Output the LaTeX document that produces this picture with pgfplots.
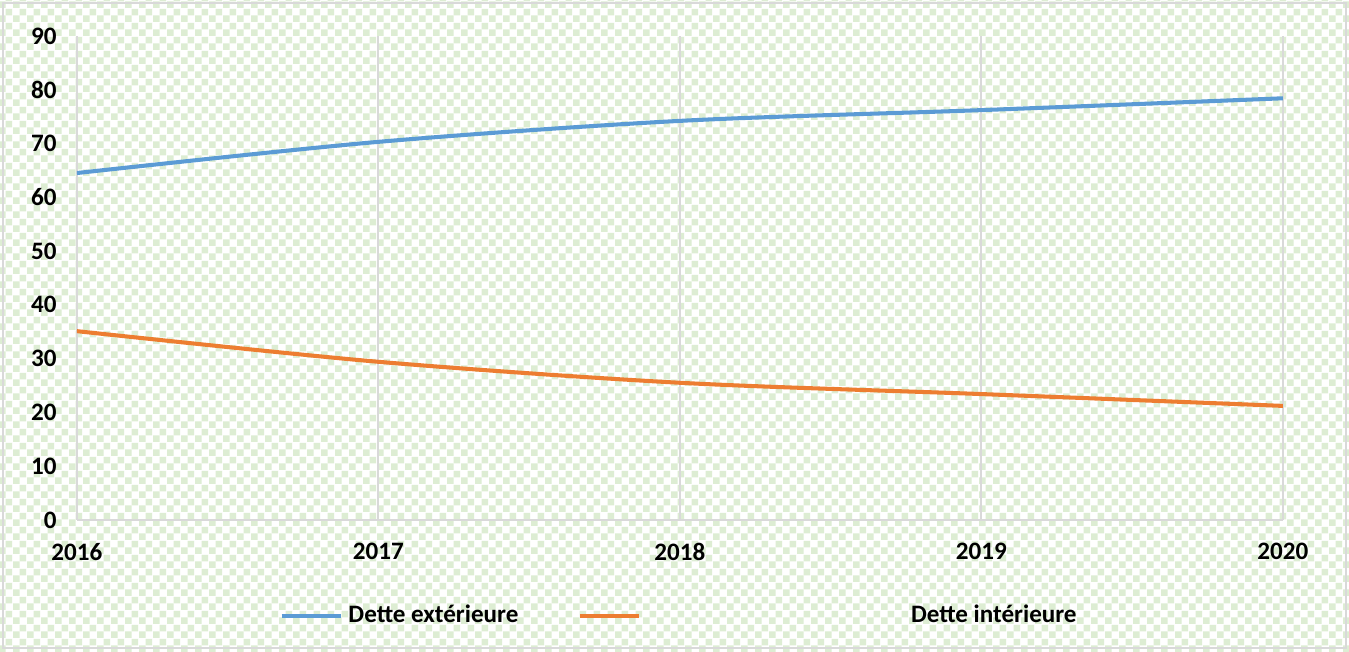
\documentclass[border=0pt]{standalone}
\usepackage{pgfplots}
\pgfplotsset{compat=1.18}
\usepackage{fontspec}
\setmainfont{Carlito}
\usetikzlibrary{patterns.meta}

\definecolor{serieA}{HTML}{5B9BD5}
\definecolor{serieB}{HTML}{ED7D31}
\definecolor{carreau}{HTML}{DDEDD3}
\definecolor{grille}{HTML}{D9D9D9}

% fond en damier vert clair
\tikzdeclarepattern{
  name=damier, type=uncolored,
  bounding box={(0pt,0pt) and (5.2pt,5.2pt)},
  tile size={(5.2pt,5.2pt)},
  code={
    \fill (0pt,0pt) rectangle (2.6pt,2.6pt);
    \fill (2.6pt,2.6pt) rectangle (5.2pt,5.2pt);
  }
}

\begin{document}
\begin{tikzpicture}
\useasboundingbox (-28.5pt,-48.6pt) rectangle (471.5pt,192.7pt);
\fill[white] (-28.5pt,-48.6pt) rectangle (471.5pt,192.7pt);
\fill[pattern=damier, pattern color=carreau] (-28.5pt,-48.6pt) rectangle (471.5pt,192.7pt);
\draw[grille, line width=0.8pt] (-27.4pt,-47.5pt) rectangle (470.4pt,191.6pt);
\begin{axis}[
    at={(0pt,0pt)}, anchor=south west,
    scale only axis,
    width=447pt, height=179.4pt,
    xmin=2016, xmax=2020,
    ymin=0, ymax=90,
    xtick={2016,2017,2018,2019,2020},
    ytick={0,10,...,90},
    /pgf/number format/assume math mode=true,
    /pgf/number format/1000 sep={},
    ticklabel style={font=\fontsize{9.3}{11}\selectfont\bfseries},
    xticklabel style={yshift=-5pt},
    yticklabel style={xshift=-4pt},
    major tick length=0pt,
    axis x line*=bottom,
    axis y line*=left,
    axis line style={grille, line width=0.8pt, -},
    xmajorgrids,
    grid style={grille, line width=0.8pt},
    legend columns=2,
    legend style={
        at={(rel axis cs:0.161,-0.198)}, anchor=west,
        draw=none, fill=none,
        font=\fontsize{9.3}{11}\selectfont\bfseries,
        /tikz/every even column/.append style={column sep=20pt},
    },
    legend cell align=left,
    legend image code/.code={\draw[#1] (0pt,0pt) -- (22pt,0pt);},
]
\addplot[serieA, line width=1.5pt, smooth] coordinates {
    (2016,64.5) (2017,70.3) (2018,74.2) (2019,76.2) (2020,78.4)
};
\addlegendentry{Dette extérieure}
\addplot[serieB, line width=1.5pt, smooth] coordinates {
    (2016,35.1) (2017,29.4) (2018,25.5) (2019,23.4) (2020,21.2)
};
\addlegendentry{\hspace*{98pt}Dette intérieure}
\end{axis}
\end{tikzpicture}
\end{document}
